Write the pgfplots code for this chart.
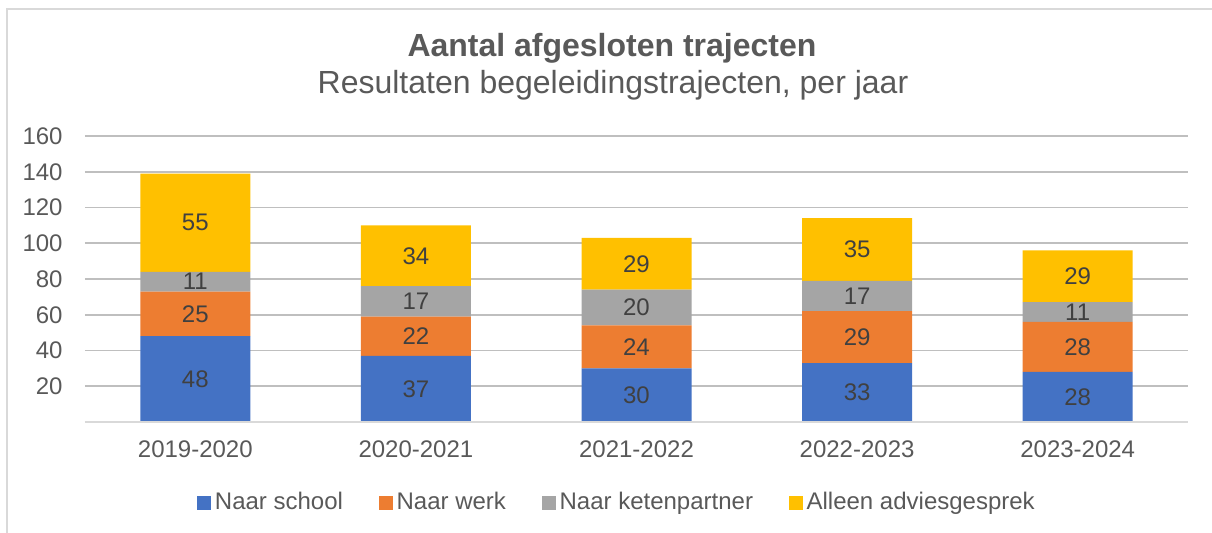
\documentclass[border=0pt]{standalone}
\usepackage{pgfplots}
\pgfplotsset{compat=1.18}
\usepackage{pgfplotstable}
\usepackage{fontspec}
\setmainfont{Liberation Sans}
\definecolor{cBlue}{HTML}{4472C4}
\definecolor{cOrange}{HTML}{ED7D31}
\definecolor{cGray}{HTML}{A5A5A5}
\definecolor{cYellow}{HTML}{FFC000}
\definecolor{txt}{HTML}{595959}
\definecolor{lbl}{HTML}{404040}
\definecolor{grid}{HTML}{D9D9D9}

\pgfplotstableread{
x school werk keten advies
0 48 25 11 55
1 37 22 17 34
2 30 24 20 29
3 33 29 17 35
4 28 28 11 29
}\datatable

\begin{document}
\begin{tikzpicture}
\fontsize{12}{14}\selectfont
\path[use as bounding box] (-42.5pt,-55.5pt) rectangle (563.5pt,211pt);
\draw[grid, line width=1pt] (-39pt,-60pt) -- (-39pt,206.5pt) -- (570pt,206.5pt);
\node[txt, font=\fontsize{16}{18}\selectfont\bfseries] at (263.5pt,187pt) {Aantal afgesloten trajecten};
\node[txt, font=\fontsize{16}{18}\selectfont] at (264pt,168.5pt) {Resultaten begeleidingstrajecten, per jaar};
\begin{axis}[
  at={(0pt,0pt)}, anchor=south west,
  scale only axis, width=551.5pt, height=143pt,
  xmin=-0.5, xmax=4.5, ymin=0, ymax=160,
  ybar stacked, bar width=55pt,
  /pgf/number format/assume math mode=true,
  axis line style={draw=none},
  major tick length=0pt,
  xtick=data, xticklabels={2019-2020,2020-2021,2021-2022,2022-2023,2023-2024},
  xticklabel style={txt, font=\fontsize{12}{14}\selectfont, anchor=north, inner sep=0pt, yshift=-9pt},
  ytick={20,40,...,160},
  yticklabel style={txt, font=\fontsize{12}{14}\selectfont, anchor=east, inner sep=0pt, xshift=-11pt},
  xmajorgrids=false, ymajorgrids=true, grid style={grid, line width=0.8pt},
  clip=false,
  legend columns=4,
  legend style={draw=none, at={(0.4833,-0.283)}, anchor=center, fill=none,
    font=\fontsize{12}{14}\selectfont, text=txt,
    /tikz/every even column/.append style={column sep=16pt},
    nodes={inner xsep=2pt},
    inner sep=0pt},
  legend image code/.code={\fill[#1] (0pt,-3.4pt) rectangle (6.8pt,3.4pt);},
]
\addplot[fill=cBlue, draw=none] table[x=x, y=school] {\datatable};
\addlegendentry{Naar school}
\addplot[fill=cOrange, draw=none] table[x=x, y=werk] {\datatable};
\addlegendentry{Naar werk}
\addplot[fill=cGray, draw=none] table[x=x, y=keten] {\datatable};
\addlegendentry{Naar ketenpartner}
\addplot[fill=cYellow, draw=none] table[x=x, y=advies] {\datatable};
\addlegendentry{Alleen adviesgesprek}
\end{axis}
\draw[grid, line width=0.8pt] (0pt,0pt) -- (551.5pt,0pt);
\begin{axis}[
  at={(0pt,0pt)}, anchor=south west,
  scale only axis, width=551.5pt, height=143pt,
  xmin=-0.5, xmax=4.5, ymin=0, ymax=160,
  hide axis, clip=false,
  /pgf/number format/assume math mode=true,
  nodes near coords, point meta=explicit,
  every node near coord/.append style={lbl, font=\fontsize{12}{14}\selectfont, anchor=center, inner sep=0pt},
]
\addplot[draw=none, mark=none] table[x=x, y expr={\thisrow{school}/2}, meta=school] {\datatable};
\addplot[draw=none, mark=none] table[x=x, y expr={\thisrow{school}+\thisrow{werk}/2}, meta=werk] {\datatable};
\addplot[draw=none, mark=none] table[x=x, y expr={\thisrow{school}+\thisrow{werk}+\thisrow{keten}/2}, meta=keten] {\datatable};
\addplot[draw=none, mark=none] table[x=x, y expr={\thisrow{school}+\thisrow{werk}+\thisrow{keten}+\thisrow{advies}/2}, meta=advies] {\datatable};
\end{axis}
\end{tikzpicture}
\end{document}
